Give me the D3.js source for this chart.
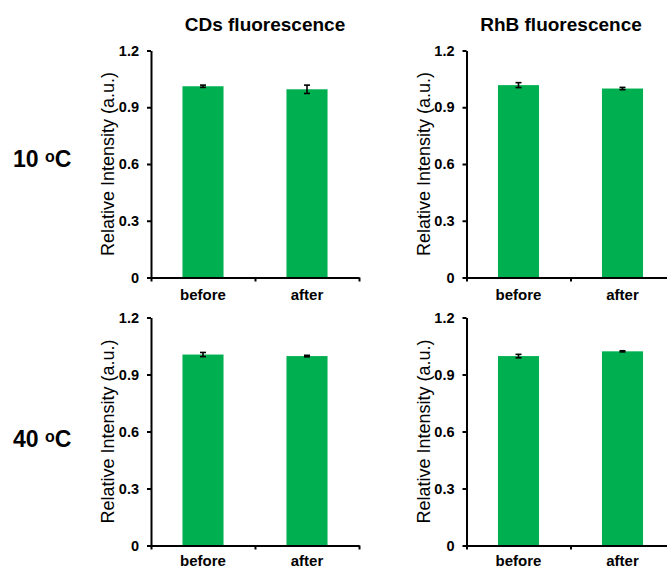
<!DOCTYPE html>
<html><head><meta charset="utf-8">
<script src="https://cdn.jsdelivr.net/npm/d3@7"></script>
<style>
body{margin:0;background:#fff}
text{font-family:"Liberation Sans",Arial,Helvetica,sans-serif}
</style>
</head><body>
<svg id="chart" width="667" height="570"></svg>
<script>
// ---- data ----
const categories = ["before", "after"];
const columnTitles = ["CDs fluorescence", "RhB fluorescence"];
const rowTemps = ["10", "40"];
const yTickValues = [0, 0.3, 0.6, 0.9, 1.2];
const cds10Values = [1.011, 0.995];
const cds10Errors = [0.006, 0.022];
const rhb10Values = [1.017, 0.999];
const rhb10Errors = [0.013, 0.006];
const cds40Values = [1.005, 0.997];
const cds40Errors = [0.011, 0.004];
const rhb40Values = [0.997, 1.022];
const rhb40Errors = [0.009, 0.003];

// ---- layout ----
const colX = [151, 466.5];
const rowTop = [50.5, 317.5];
const rowBottom = [277.5, 545.5];
const rowLabelPad = [12, 10];
const plotW = 208;
const titleX = [265, 561];
const titleY = 31;
const rowLabelY = [167, 447];
const barColor = "#00b050";

const panels = [
  {row: 0, col: 0, values: cds10Values, errors: cds10Errors},
  {row: 0, col: 1, values: rhb10Values, errors: rhb10Errors},
  {row: 1, col: 0, values: cds40Values, errors: cds40Errors},
  {row: 1, col: 1, values: rhb40Values, errors: rhb40Errors}
];

const svg = d3.select("#chart");
svg.append("rect").attr("width", 667).attr("height", 570).attr("fill", "#fff");

// column titles
columnTitles.forEach((t, i) => {
  svg.append("text").attr("x", titleX[i]).attr("y", titleY)
    .attr("text-anchor", "middle").attr("font-size", 19).attr("font-weight", "bold")
    .attr("fill", "#000").text(t);
});

// row labels
rowTemps.forEach((t, i) => {
  const tx = svg.append("text").attr("x", 13).attr("y", rowLabelY[i])
    .attr("font-size", 23).attr("font-weight", "bold").attr("fill", "#000");
  tx.append("tspan").text(t + " ");
  tx.append("tspan").attr("font-size", 16).attr("dy", -5).text("o");
  tx.append("tspan").attr("dy", 5).text("C");
});

panels.forEach(p => {
  const x0 = colX[p.col];
  const top = rowTop[p.row], bottom = rowBottom[p.row];
  const g = svg.append("g").attr("transform", `translate(${x0},0)`);

  const y = d3.scaleLinear().domain([0, 1.2]).range([bottom, top]);
  const xb = d3.scaleBand().domain(categories).range([0, plotW])
    .paddingInner(0.605).paddingOuter(0.3025);
  const xl = d3.scaleLinear().domain([0, categories.length]).range([0, plotW]);

  // bars
  g.selectAll("rect.bar").data(categories).join("rect").attr("class", "bar")
    .attr("x", d => xb(d)).attr("width", xb.bandwidth())
    .attr("y", (d, i) => y(p.values[i]))
    .attr("height", (d, i) => y(0) - y(p.values[i]))
    .attr("fill", barColor);

  // error bars
  const eb = g.selectAll("g.err").data(categories).join("g").attr("class", "err")
    .attr("stroke", "#000").attr("stroke-width", 1.6);
  const cx = d => xb(d) + xb.bandwidth() / 2;
  eb.append("line").attr("x1", cx).attr("x2", cx)
    .attr("y1", (d, i) => y(p.values[i] - p.errors[i]))
    .attr("y2", (d, i) => y(p.values[i] + p.errors[i]));
  eb.append("line").attr("x1", d => cx(d) - 3).attr("x2", d => cx(d) + 3)
    .attr("y1", (d, i) => y(p.values[i] + p.errors[i]))
    .attr("y2", (d, i) => y(p.values[i] + p.errors[i]));
  eb.append("line").attr("x1", d => cx(d) - 3).attr("x2", d => cx(d) + 3)
    .attr("y1", (d, i) => y(p.values[i] - p.errors[i]))
    .attr("y2", (d, i) => y(p.values[i] - p.errors[i]));

  // y axis
  const ya = g.append("g").call(d3.axisLeft(y).tickValues(yTickValues)
    .tickSizeInner(4).tickSizeOuter(0).tickPadding(8)
    .tickFormat(d => d === 0 ? "0" : d3.format(".1f")(d)));
  ya.select(".domain").attr("stroke", "#000").attr("stroke-width", 2);
  ya.selectAll(".tick line").attr("stroke", "#000").attr("stroke-width", 2);
  ya.selectAll(".tick text").attr("font-size", 14.5).attr("font-weight", "bold")
    .attr("fill", "#000").attr("font-family", null);

  // x axis ticks (category boundaries)
  const xa = g.append("g").attr("transform", `translate(0,${bottom})`)
    .call(d3.axisBottom(xl).tickValues([0, 1, 2]).tickSizeInner(4).tickSizeOuter(0).tickFormat(""));
  xa.select(".domain").attr("stroke", "#000").attr("stroke-width", 2);
  xa.selectAll(".tick line").attr("stroke", "#000").attr("stroke-width", 2);

  // x labels
  const xlab = g.append("g").attr("transform", `translate(0,${bottom})`)
    .call(d3.axisBottom(xb).tickSize(0).tickPadding(rowLabelPad[p.row]));
  xlab.select(".domain").remove();
  xlab.selectAll(".tick text").attr("font-size", 15).attr("font-weight", "bold")
    .attr("fill", "#000").attr("font-family", null);

  // y axis title
  g.append("text")
    .attr("transform", `translate(-37,${(top + bottom) / 2}) rotate(-90)`)
    .attr("text-anchor", "middle").attr("font-size", 18).attr("fill", "#000")
    .text("Relative Intensity (a.u.)");
});
</script>
</body></html>
